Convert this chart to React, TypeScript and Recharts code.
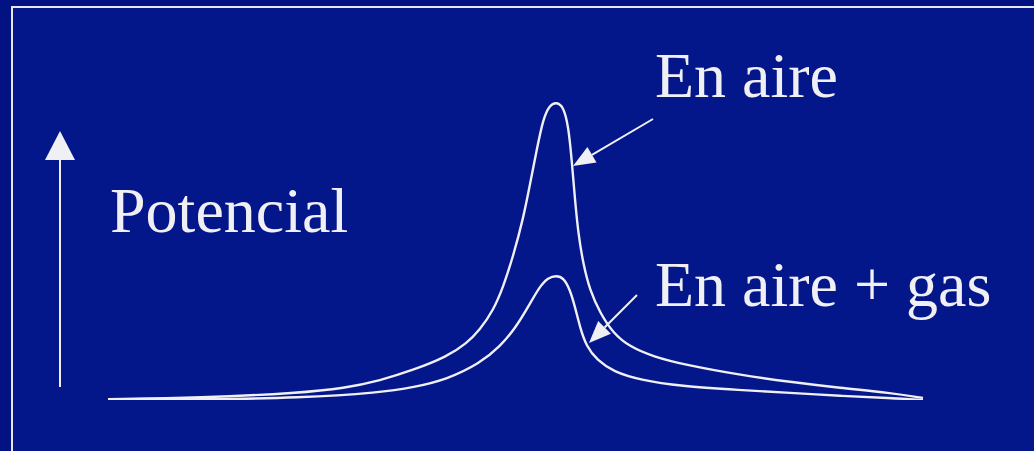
import { LineChart, Line, XAxis, YAxis, Customized } from "recharts";

// position along the sample (0-100) and potential (0-100, peak in air = 100)
const airPoints = [
  { x: 0, v: 0.3 },
  { x: 11.3, v: 0.7 },
  { x: 23.6, v: 2.4 },
  { x: 29.0, v: 4.0 },
  { x: 33.4, v: 6.6 },
  { x: 37.5, v: 10.2 },
  { x: 41.6, v: 14.7 },
  { x: 44.0, v: 19.2 },
  { x: 45.6, v: 23.7 },
  { x: 47.3, v: 30.5 },
  { x: 48.5, v: 38.4 },
  { x: 49.7, v: 48.6 },
  { x: 51.0, v: 62.1 },
  { x: 51.8, v: 73.5 },
  { x: 52.6, v: 84.7 },
  { x: 53.4, v: 95.5 },
  { x: 54.2, v: 100 },
  { x: 55.0, v: 101 },
  { x: 55.9, v: 99.5 },
  { x: 56.5, v: 92.6 },
  { x: 56.9, v: 81.4 },
  { x: 57.3, v: 67.8 },
  { x: 57.7, v: 56.5 },
  { x: 58.3, v: 46.3 },
  { x: 59.1, v: 37.3 },
  { x: 60.4, v: 29.4 },
  { x: 62.0, v: 22.6 },
  { x: 64.0, v: 18.1 },
  { x: 66.9, v: 14.7 },
  { x: 70.8, v: 11.9 },
  { x: 77.5, v: 8.5 },
  { x: 83.7, v: 6.1 },
  { x: 89.8, v: 4.1 },
  { x: 96.0, v: 2.4 },
  { x: 100, v: 0.7 },
];

const airGasPoints = [
  { x: 0, v: 0 },
  { x: 11.3, v: 0.2 },
  { x: 23.6, v: 0.7 },
  { x: 33.4, v: 2.5 },
  { x: 37.5, v: 4.3 },
  { x: 41.6, v: 7.0 },
  { x: 45.6, v: 12.4 },
  { x: 48.1, v: 18.1 },
  { x: 50.1, v: 24.8 },
  { x: 51.8, v: 32.8 },
  { x: 53.0, v: 38.6 },
  { x: 54.0, v: 41.5 },
  { x: 55.0, v: 42.2 },
  { x: 55.9, v: 41.5 },
  { x: 56.7, v: 37.3 },
  { x: 57.3, v: 31.6 },
  { x: 57.9, v: 24.8 },
  { x: 58.7, v: 18.1 },
  { x: 60.0, v: 13.6 },
  { x: 62.0, v: 9.6 },
  { x: 65.3, v: 6.8 },
  { x: 70.2, v: 4.7 },
  { x: 77.5, v: 3.4 },
  { x: 83.7, v: 2.4 },
  { x: 89.8, v: 1.4 },
  { x: 96.0, v: 0.7 },
  { x: 100, v: 0 },
];

const labels = {
  axis: "Potencial",
  air: "En aire",
  airGas: "En aire + gas",
};

const ink = "#efeff4";
const font = "'Liberation Serif', 'Times New Roman', serif";

function Arrow({ x1, y1, x2, y2, head = 22, half = 9 }: any) {
  const dx = x2 - x1;
  const dy = y2 - y1;
  const len = Math.sqrt(dx * dx + dy * dy);
  const ux = dx / len;
  const uy = dy / len;
  const bx = x2 - ux * head;
  const by = y2 - uy * head;
  const pts = `${x2},${y2} ${bx - uy * half},${by + ux * half} ${bx + uy * half},${by - ux * half}`;
  return (
    <g>
      <line x1={x1} y1={y1} x2={bx} y2={by} stroke={ink} strokeWidth={2} />
      <polygon points={pts} fill={ink} />
    </g>
  );
}

function Annotations() {
  return (
    <g>
      <Arrow x1={60} y1={387} x2={60} y2={131} head={29} half={15} />
      <text x={110} y={232} fill={ink} fontFamily={font} fontSize={64}>
        {labels.axis}
      </text>
      <text x={655} y={97} fill={ink} fontFamily={font} fontSize={64}>
        {labels.air}
      </text>
      <text x={655} y={306} fill={ink} fontFamily={font} fontSize={64}>
        {labels.airGas}
      </text>
      <Arrow x1={653} y1={119} x2={573} y2={166} />
      <Arrow x1={637} y1={295} x2={589} y2={343} />
    </g>
  );
}

export default function App() {
  return (
    <div
      style={{
        position: "absolute",
        left: 0,
        top: 0,
        width: 1034,
        height: 451,
        background: "#021282",
        overflow: "hidden",
      }}
    >
      <div
        style={{
          position: "absolute",
          left: 11,
          top: 6,
          right: -4,
          bottom: -4,
          background: "#03168a",
          borderLeft: "2px solid #e6e6ee",
          borderTop: "2px solid #e6e6ee",
        }}
      />
      <div style={{ position: "absolute", left: 0, top: 0 }}>
        <LineChart
          width={1034}
          height={451}
          margin={{ top: 95, right: 111, bottom: 51, left: 108 }}
        >
          <XAxis dataKey="x" type="number" domain={[0, 100]} hide />
          <YAxis type="number" domain={[0, 103.4]} hide allowDataOverflow />
          <Line
            data={airPoints}
            dataKey="v"
            type="basis"
            stroke={ink}
            strokeWidth={2.4}
            dot={false}
            activeDot={false}
            isAnimationActive={false}
          />
          <Line
            data={airGasPoints}
            dataKey="v"
            type="basis"
            stroke={ink}
            strokeWidth={2.4}
            dot={false}
            activeDot={false}
            isAnimationActive={false}
          />
          <Customized component={Annotations} />
        </LineChart>
      </div>
    </div>
  );
}
